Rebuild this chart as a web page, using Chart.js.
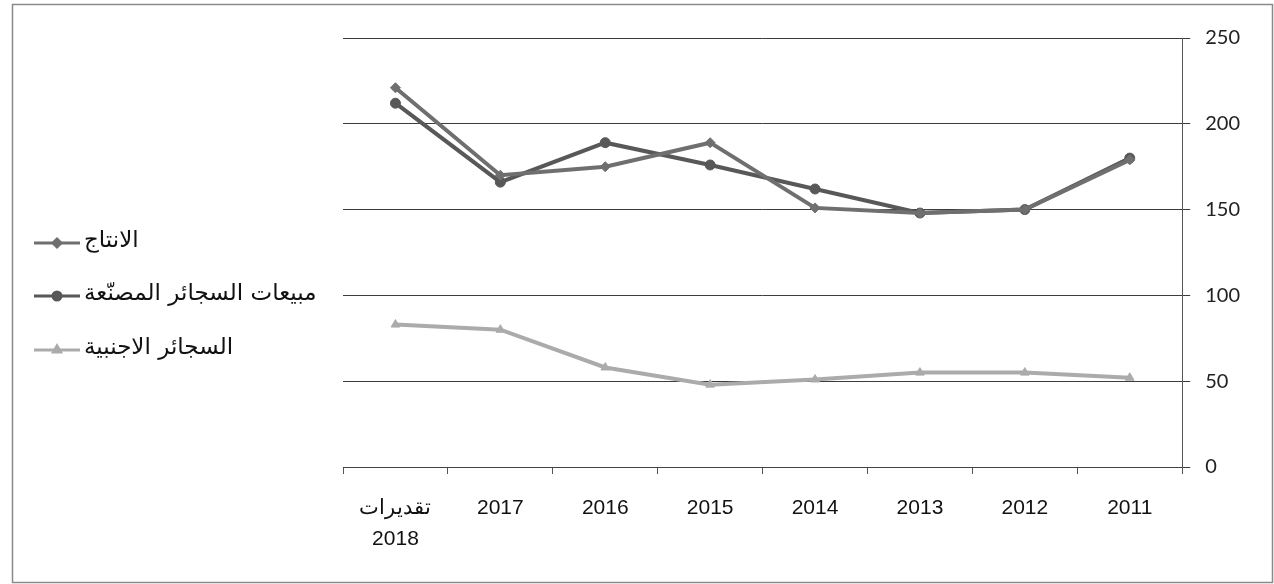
<!DOCTYPE html>
<html lang="ar">
<head>
<meta charset="utf-8">
<script src="https://cdn.jsdelivr.net/npm/chart.js@4"></script>
<style>
    html, body { margin: 0; padding: 0; background: #fff; }
    #wrap { width: 1274px; height: 584px; position: relative; }
</style>
</head>
<body>
<div id="wrap"><canvas id="grafico"></canvas></div>
<script>
// years in chronological order, axis is reversed so 2011 sits on the right
const anos = ['2011', '2012', '2013', '2014', '2015', '2016', '2017', ['تقديرات', '2018']];
const producao = [179, 150, 148, 151, 189, 175, 170, 221];
const vendas = [180, 150, 148, 162, 176, 189, 166, 212];
const estrangeiros = [52, 55, 55, 51, 48, 58, 80, 83];
const yTicks = [0, 50, 100, 150, 200, 250];

const nomes = ['الانتاج', 'مبيعات السجائر المصنّعة', 'السجائر الاجنبية'];
const cores = ['#6f6f6f', '#585858', '#ababab'];
const marcadores = ['rectRot', 'circle', 'triangle'];

// legend drawn by hand: line sample with marker, text to its right
const legendaManual = {
    id: 'legendaManual',
    afterDraw(chart) {
        const ctx = chart.ctx;
        const linhas = [243, 296, 350];
        ctx.save();
        chart.data.datasets.forEach((ds, i) => {
            const y = linhas[i];
            ctx.strokeStyle = ds.borderColor;
            ctx.lineWidth = 3;
            ctx.beginPath();
            ctx.moveTo(34, y);
            ctx.lineTo(80, y);
            ctx.stroke();
            Chart.helpers.drawPoint(ctx, {
                pointStyle: ds.pointStyle, radius: 4, rotation: 0, borderWidth: 1
            }, 57, y);
            ctx.fillStyle = ds.borderColor;
            ctx.fill();
            ctx.fillStyle = '#111';
            ctx.font = '23px "DejaVu Sans", Arial, sans-serif';
            ctx.textAlign = 'left';
            ctx.textBaseline = 'middle';
            ctx.fillText(ds.label, 84, y - 2);
        });
        // outer frame
        ctx.strokeStyle = '#8a8a8a';
        ctx.lineWidth = 1.5;
        ctx.strokeRect(12.5, 4.5, 1260, 578);
        ctx.restore();
    }
};

new Chart(document.getElementById('grafico'), {
    type: 'line',
    data: {
        labels: anos,
        datasets: [producao, vendas, estrangeiros].map((serie, i) => ({
            label: nomes[i],
            data: serie,
            borderColor: cores[i],
            backgroundColor: cores[i],
            borderWidth: 4,
            pointStyle: marcadores[i],
            pointRadius: 5,
            pointBorderWidth: 1,
            tension: 0
        }))
    },
    options: {
        responsive: true,
        maintainAspectRatio: false,
        animation: false,
        layout: { padding: { left: 343, top: 38, right: 19, bottom: 11 } },
        plugins: {
            legend: { display: false },
            tooltip: { enabled: false }
        },
        scales: {
            x: {
                reverse: true,
                offset: true,
                grid: {
                    offset: true,
                    drawOnChartArea: false,
                    drawTicks: true,
                    tickLength: 7,
                    color: '#555'
                },
                border: { display: true, color: '#444', width: 1 },
                ticks: {
                    color: '#111',
                    padding: 18,
                    maxRotation: 0,
                    autoSkip: false,
                    font: { family: '"Liberation Sans", Arial, sans-serif', size: 21, lineHeight: 1.5 }
                }
            },
            y: {
                position: 'right',
                min: 0,
                max: 250,
                afterBuildTicks(axis) {
                    axis.ticks = yTicks.map(v => ({ value: v }));
                },
                grid: {
                    color: '#3c3c3c',
                    lineWidth: 1,
                    drawTicks: true,
                    tickLength: 8
                },
                border: { display: true, color: '#555', width: 1 },
                ticks: {
                    color: '#222',
                    padding: 15,
                    font: { family: 'Lato, "Open Sans", sans-serif', size: 20 }
                }
            }
        }
    },
    plugins: [legendaManual]
});
</script>
</body>
</html>
